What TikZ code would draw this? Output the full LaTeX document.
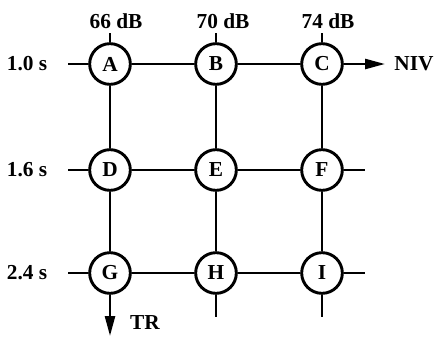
\documentclass[tikz,border=0pt]{standalone}
\usepackage{fontspec}
\setmainfont{Liberation Serif}
\usetikzlibrary{arrows.meta}
\begin{document}
\begin{tikzpicture}[x=0.75pt,y=-0.75pt,
  stage/.style={circle,draw,line width=2.2pt,minimum size=30.5pt,inner sep=0pt,font=\fontsize{16}{18}\selectfont\bfseries},
  wire/.style={line width=1.9pt},
  lbl/.style={font=\fontsize{16}{18}\selectfont\bfseries,inner sep=0pt},
  outarrow/.style={wire,-{Triangle[length=15pt,width=7.5pt]}}]
\useasboundingbox (0,0) rectangle (438,336);
% stages
\node[stage] (A) at (110,64) {A};
\node[stage] (B) at (216,64) {B};
\node[stage] (C) at (322,64) {C};
\node[stage] (D) at (110,170) {D};
\node[stage] (E) at (216,170) {E};
\node[stage] (F) at (322,170) {F};
\node[stage] (G) at (110,273) {G};
\node[stage] (H) at (216,273) {H};
\node[stage] (I) at (322,273) {I};
% grid
\draw[wire] (A) -- (B) (B) -- (C) (D) -- (E) (E) -- (F) (G) -- (H) (H) -- (I);
\draw[wire] (A) -- (D) (D) -- (G) (B) -- (E) (E) -- (H) (C) -- (F) (F) -- (I);
% top labels
\node[lbl] (l66) at (116,21) {66 dB};
\node[lbl] (l70) at (223,21) {70 dB};
\node[lbl] (l74) at (328,21) {74 dB};
\coordinate (tA) at (110,33);
\coordinate (tB) at (216,33);
\coordinate (tC) at (322,33);
\draw[wire] (A.north) -- (tA) (B.north) -- (tB) (C.north) -- (tC);
% left labels
\node[lbl] (s1) at (27,64) {1.0 s};
\node[lbl] (s2) at (27,170) {1.6 s};
\node[lbl] (s3) at (27,273) {2.4 s};
\coordinate (wA) at (68,64);
\coordinate (wD) at (68,170);
\coordinate (wG) at (68,273);
\draw[wire] (A.west) -- (wA) (D.west) -- (wD) (G.west) -- (wG);
% right side
\coordinate (eF) at (365,170);
\coordinate (eI) at (365,273);
\draw[wire] (F.east) -- (eF) (I.east) -- (eI);
\coordinate (nivtip) at (385,64);
\draw[outarrow] (C.east) -- (nivtip);
\node[lbl] (niv) at (414,64) {NIV};
% bottom
\coordinate (bH) at (216,317);
\coordinate (bI) at (322,317);
\draw[wire] (H.south) -- (bH) (I.south) -- (bI);
\coordinate (trtip) at (110,336);
\draw[outarrow] (G.south) -- (trtip);
\node[lbl] (tr) at (145,323) {TR};
\end{tikzpicture}
\end{document}
